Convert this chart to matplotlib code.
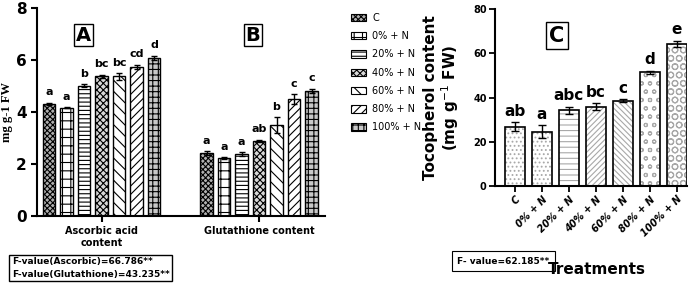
import matplotlib
matplotlib.use("Agg")
import matplotlib.pyplot as plt
from matplotlib.patches import Patch
import numpy as np

plt.rcParams['hatch.linewidth'] = 0.8

treatments = ["C", "0% + N", "20% + N", "40% + N", "60% + N", "80% + N", "100% + N"]
ascorbic = [4.31, 4.17, 5.01, 5.37, 5.37, 5.74, 6.09]
ascorbic_err = [0.05, 0.03, 0.05, 0.07, 0.12, 0.08, 0.08]
ascorbic_letters = ["a", "a", "b", "bc", "bc", "cd", "d"]
glutathione = [2.42, 2.23, 2.38, 2.89, 3.5, 4.5, 4.82]
glutathione_err = [0.07, 0.04, 0.08, 0.05, 0.3, 0.2, 0.08]
glutathione_letters = ["a", "a", "a", "ab", "b", "c", "c"]
tocopherol = [26.8, 24.6, 34.2, 35.9, 38.6, 51.4, 64.2]
tocopherol_err = [2.0, 3.0, 1.6, 1.5, 0.8, 0.8, 1.5]
tocopherol_letters = ["ab", "a", "abc", "bc", "c", "d", "e"]
group_labels = ["Ascorbic acid\ncontent", "Glutathione content"]
tick_labels_c = ["C", "0% + N", "20% + N", "40% + N", "60% + N", "80% + N", "100% + N"]

hatches = ['xxxxxx', '++', '----', 'xxxxx', '\\\\\\', '////', '+++']
faces = ['#b0b0b0', 'white', 'white', '#d8d8d8', 'white', 'white', '#c8c8c8']
hatches_c = ['....', '....', '---', '//////', '\\\\\\\\\\\\', 'oo', 'OO']

W, H = 699, 286
fig = plt.figure(figsize=(W / 100, H / 100), dpi=100)

# Left panel
axL = fig.add_axes([37 / W, 1 - 216 / H, (325 - 37) / W, (216 - 8) / H])
x = np.arange(7)
bw = 0.72
for i in range(7):
    for off, vals, errs, lets in [(0, ascorbic, ascorbic_err, ascorbic_letters),
                                  (9, glutathione, glutathione_err, glutathione_letters)]:
        axL.bar(x[i] + off, vals[i], width=bw, color=faces[i], edgecolor='black',
                hatch=hatches[i], linewidth=1.0, zorder=2)
        axL.errorbar(x[i] + off, vals[i], yerr=errs[i], color='black', capsize=2.5,
                     elinewidth=1, capthick=1, zorder=3)
        axL.text(x[i] + off, vals[i] + errs[i] + 0.2, lets[i], ha='center', va='bottom',
                 fontsize=8, fontweight='bold')
axL.set_xlim(-0.69, 15.77)
axL.set_ylim(0, 8)
axL.set_yticks([0, 2, 4, 6, 8])
axL.set_yticklabels(['0', '2', '4', '6', '8'], fontsize=11, fontweight='bold')
axL.set_xticks([3, 12])
axL.set_xticklabels(group_labels, fontsize=7, fontweight='bold')
axL.spines['top'].set_visible(False)
axL.spines['right'].set_visible(False)
axL.spines['left'].set_linewidth(1.5)
axL.spines['bottom'].set_linewidth(1.5)
axL.tick_params(axis='both', width=1.5, length=4)
axL.set_ylabel('mg g-1 FW', fontsize=9, fontweight='bold', family='Liberation Serif', labelpad=2)
axL.text(1.94, 6.96, 'A', fontsize=14, fontweight='bold', ha='center', va='center',
         bbox=dict(boxstyle='square,pad=0.1', fc='white', ec='black', lw=1))
axL.text(11.66, 6.96, 'B', fontsize=14, fontweight='bold', ha='center', va='center',
         bbox=dict(boxstyle='square,pad=0.1', fc='white', ec='black', lw=1))

handles = [Patch(facecolor=faces[i], edgecolor='black', hatch=hatches[i], lw=0.8)
           for i in range(7)]
fig.legend(handles, treatments, loc='upper left', bbox_to_anchor=(347 / W, 1 - 9 / H),
           frameon=False, fontsize=7, handlelength=1.6, handleheight=0.8,
           labelspacing=0.85, handletextpad=0.6, borderaxespad=0)

fig.text(12 / W, 1 - 268 / H, 'F-value(Ascorbic)=66.786**\nF-value(Glutathione)=43.235**',
         fontsize=6.5, fontweight='bold', va='center', ha='left', linespacing=1.45,
         bbox=dict(boxstyle='square,pad=0.3', fc='white', ec='black', lw=1))

# Right panel
axR = fig.add_axes([495 / W, 1 - 186 / H, (687 - 495) / W, (186 - 9) / H])
xc = np.arange(7)
for i in range(7):
    axR.bar(xc[i], tocopherol[i], width=0.74, color='white', edgecolor='#a8a8a8',
            hatch=hatches_c[i], linewidth=0, zorder=2)
    axR.bar(xc[i], tocopherol[i], width=0.74, color='none', edgecolor='black',
            linewidth=1.2, zorder=3)
    axR.errorbar(xc[i], tocopherol[i], yerr=tocopherol_err[i], color='black', capsize=3,
                 elinewidth=1, capthick=1, zorder=4)
    axR.text(xc[i], tocopherol[i] + tocopherol_err[i] + 1.5, tocopherol_letters[i],
             ha='center', va='bottom', fontsize=11, fontweight='bold')
axR.set_xlim(-0.74, 6.37)
axR.set_ylim(0, 80)
axR.set_yticks([0, 20, 40, 60, 80])
axR.set_yticklabels(['0', '20', '40', '60', '80'], fontsize=7, fontweight='bold')
axR.set_xticks(xc)
axR.set_xticklabels(tick_labels_c, rotation=45, ha='right', rotation_mode='anchor',
                    fontsize=7, fontweight='bold', style='italic')
axR.spines['top'].set_visible(False)
axR.spines['right'].set_visible(False)
axR.spines['left'].set_linewidth(1.5)
axR.spines['bottom'].set_linewidth(1.5)
axR.tick_params(axis='both', width=1.3, length=4, pad=2)
axR.set_ylabel('Tocopherol content\n(mg g$^{-1}$ FW)', fontsize=11, fontweight='bold',
               linespacing=1.05)
axR.yaxis.set_label_coords((461 - 495) / (687 - 495), 0.5)
axR.text(1.56, 68, 'C', fontsize=15, fontweight='bold', ha='center', va='center',
         bbox=dict(boxstyle='square,pad=0.15', fc='white', ec='black', lw=1))
fig.text(457 / W, 1 - 261 / H, 'F- value=62.185**', fontsize=6.5, fontweight='bold',
         va='center', ha='left',
         bbox=dict(boxstyle='square,pad=0.6', fc='white', ec='black', lw=0.8))
fig.text(597 / W, 1 - 270 / H, 'Treatments', fontsize=11, fontweight='bold',
         va='center', ha='center')

fig.savefig('out.png', dpi=100)
